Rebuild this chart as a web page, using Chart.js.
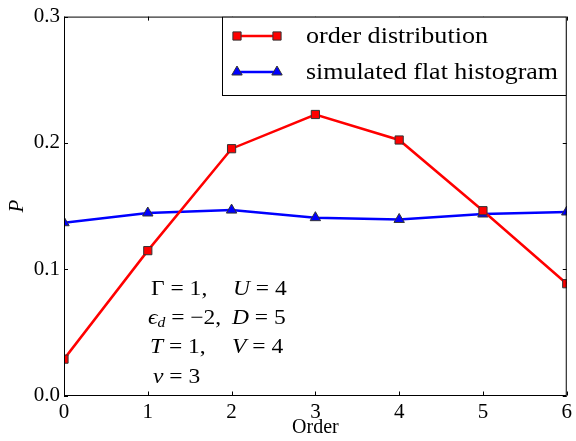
<!DOCTYPE html>
<html>
<head>
<meta charset="utf-8">
<script src="https://cdn.jsdelivr.net/npm/chart.js@4.4.1/dist/chart.umd.min.js"></script>
<style>
  html, body { margin: 0; padding: 0; background: #fff; }
  #wrap { width: 576px; height: 441px; }
</style>
</head>
<body>
<div id="wrap"><canvas id="chart" width="576" height="441"></canvas></div>
<script>
// data
var orders = [0, 1, 2, 3, 4, 5, 6];
var orderDist = [0.0288, 0.1147, 0.1954, 0.2225, 0.2023, 0.1463, 0.0885];
var flatHist = [0.1368, 0.1445, 0.1468, 0.1408, 0.1394, 0.1437, 0.1453];
var xTicks = [0, 1, 2, 3, 4, 5, 6];
var yTicks = [0.0, 0.1, 0.2, 0.3];
var legendLabels = ['order distribution', 'simulated flat histogram'];

var serif = '"Liberation Serif", "DejaVu Serif", serif';

function pts(ys) {
  return orders.map(function (x, i) { return { x: x, y: ys[i] }; });
}

// draw text squeezed/stretched horizontally by sx
function stretchText(c, txt, x, y, sx) {
  c.save();
  c.translate(x, y);
  c.scale(sx, 1);
  c.fillText(txt, 0, 0);
  c.restore();
  return c.measureText(txt).width * sx;
}

// frame with inward ticks on all four sides
var framePlugin = {
  id: 'frame',
  afterDraw: function (chart) {
    var c = chart.ctx, a = chart.chartArea;
    var xs = chart.scales.x, ys = chart.scales.y;
    c.save();
    c.strokeStyle = '#000';
    c.lineWidth = 1;
    c.strokeRect(a.left + 0.5, a.top + 0.5, a.right - a.left - 1, a.bottom - a.top - 0.5);
    c.beginPath();
    xTicks.forEach(function (v) {
      var px = Math.round(xs.getPixelForValue(v)) + 0.5;
      c.moveTo(px, a.bottom); c.lineTo(px, a.bottom - 4);
      c.moveTo(px, a.top); c.lineTo(px, a.top + 4);
    });
    yTicks.forEach(function (v) {
      var py = Math.round(ys.getPixelForValue(v)) + 0.5;
      c.moveTo(a.left, py); c.lineTo(a.left + 4, py);
      c.moveTo(a.right, py); c.lineTo(a.right - 4, py);
    });
    c.stroke();
    c.restore();
  }
};

// legend box in the top right corner
var legendPlugin = {
  id: 'boxLegend',
  afterDraw: function (chart) {
    var c = chart.ctx, a = chart.chartArea;
    var x0 = 222, y0 = a.top, x1 = a.right, y1 = 96;
    c.save();
    c.fillStyle = '#fff';
    c.fillRect(x0, y0, x1 - x0, y1 - y0);
    c.strokeStyle = '#000';
    c.lineWidth = 1;
    c.strokeRect(x0 + 0.5, y0 + 0.5, x1 - x0 - 1, y1 - y0 - 1);
    var rowY = [36, 72];
    var rowW = [182, 252];
    chart.data.datasets.forEach(function (ds, i) {
      var y = rowY[i];
      c.strokeStyle = ds.borderColor;
      c.lineWidth = 2.5;
      c.beginPath(); c.moveTo(237, y); c.lineTo(277, y); c.stroke();
      [237, 277].forEach(function (px) {
        c.fillStyle = ds.pointBackgroundColor;
        c.strokeStyle = ds.pointBorderColor;
        c.lineWidth = 1;
        Chart.helpers.drawPoint(c, { pointStyle: ds.pointStyle, radius: ds.pointRadius, borderWidth: 1 }, px, y);
      });
      c.fillStyle = '#000';
      c.font = '23px ' + serif;
      c.textBaseline = 'middle';
      var w = c.measureText(legendLabels[i]).width;
      stretchText(c, legendLabels[i], 306, y + 1, rowW[i] / w);
    });
    c.restore();
  }
};

// parameter block, mixed upright and italic text
var paramPlugin = {
  id: 'params',
  afterDraw: function (chart) {
    var c = chart.ctx;
    var rows = [
      { y: 289, parts: [[151, [['Γ', 0], [' = 1,', 0]]], [233, [['U', 1], [' = 4', 0]]]] },
      { y: 318, parts: [[148, [['ϵ', 1], ['d', 2], [' = −2,', 0]]], [232, [['D', 1], [' = 5', 0]]]] },
      { y: 347, parts: [[150, [['T', 1], [' = 1,', 0]]], [232, [['V', 1], [' = 4', 0]]]] },
      { y: 377, parts: [[153, [['ν', 1], [' = 3', 0]]]] }
    ];
    c.save();
    c.fillStyle = '#000';
    c.textBaseline = 'middle';
    rows.forEach(function (r) {
      r.parts.forEach(function (p) {
        var x = p[0];
        p[1].forEach(function (seg) {
          var y = r.y;
          if (seg[1] === 2) { c.font = 'italic 14px ' + serif; y += 5; }
          else if (seg[1] === 1) c.font = 'italic 21px ' + serif;
          else c.font = '21px ' + serif;
          x += stretchText(c, seg[0], x, y, 1.12);
        });
      });
    });
    c.restore();
  }
};

var ctx = document.getElementById('chart').getContext('2d');

var myChart = new Chart(ctx, {
  type: 'line',
  data: {
    datasets: [
      {
        label: legendLabels[0],
        data: pts(orderDist),
        borderColor: '#ff0000',
        borderWidth: 2.5,
        pointStyle: 'rect',
        pointRadius: 5.8,
        pointBackgroundColor: '#ff0000',
        pointBorderColor: '#333',
        pointBorderWidth: 1,
        tension: 0
      },
      {
        label: legendLabels[1],
        data: pts(flatHist),
        borderColor: '#0000ff',
        borderWidth: 2.5,
        pointStyle: 'triangle',
        pointRadius: 6,
        pointBackgroundColor: '#0000ff',
        pointBorderColor: '#333',
        pointBorderWidth: 1,
        tension: 0
      }
    ]
  },
  options: {
    responsive: false,
    animation: false,
    layout: { padding: { top: 15, right: 6, left: 0, bottom: 0 } },
    plugins: { legend: { display: false }, tooltip: { enabled: false } },
    scales: {
      x: {
        type: 'linear',
        min: 0, max: 6,
        afterBuildTicks: function (s) { s.ticks = xTicks.map(function (v) { return { value: v }; }); },
        afterFit: function (s) { s.height = 45.5; },
        grid: { display: false, drawTicks: false },
        border: { display: false },
        ticks: { color: '#000', padding: 4, maxRotation: 0, font: { family: serif, size: 21 } },
        title: { display: true, text: 'Order', color: '#000', padding: { top: 0, bottom: 1 }, font: { family: serif, size: 20 } }
      },
      y: {
        min: 0, max: 0.3,
        afterBuildTicks: function (s) { s.ticks = yTicks.map(function (v) { return { value: v }; }); },
        afterFit: function (s) { s.width = 64; },
        grid: { display: false, drawTicks: false },
        border: { display: false },
        ticks: { color: '#000', padding: 4, font: { family: serif, size: 21 },
          callback: function (v) { return v.toFixed(1); } },
        title: { display: true, text: 'P', color: '#000', padding: { top: 5, bottom: 4 }, font: { family: serif, size: 21, style: 'italic' } }
      }
    }
  },
  plugins: [framePlugin, legendPlugin, paramPlugin]
});
</script>
</body>
</html>
